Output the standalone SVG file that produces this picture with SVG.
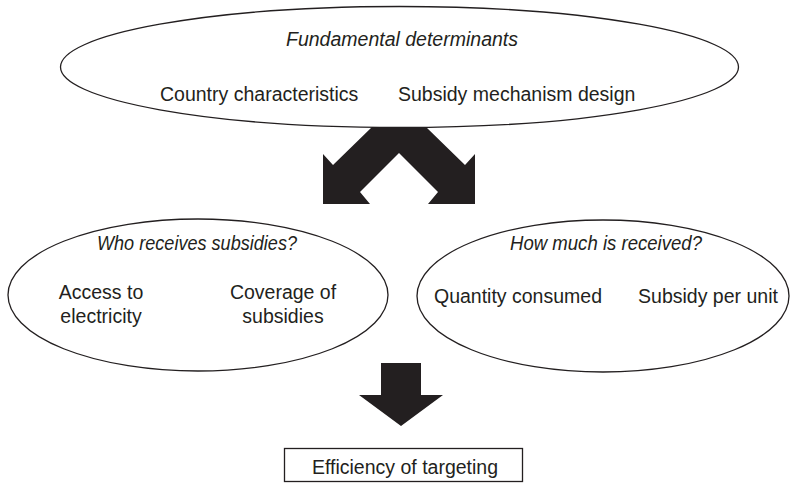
<svg xmlns="http://www.w3.org/2000/svg" width="790" height="483" viewBox="0 0 790 483">
<style>
.sh{fill:none;stroke:#231f20;stroke-width:1.3}
.t{font-family:"Liberation Sans",Arial,sans-serif;font-size:19.5px;fill:#231f20}
.i{font-style:italic}
.m{text-anchor:middle}
.ar{fill:#231f20;stroke:none}
</style>
<rect width="790" height="483" fill="#fff"/>
<g id="fundamental">
<ellipse class="sh" cx="399.5" cy="67" rx="339" ry="60.5"/>
<text class="t i m" x="402" y="46" textLength="232" lengthAdjust="spacingAndGlyphs">Fundamental determinants</text>
<text class="t" x="160" y="101">Country characteristics</text>
<text class="t" x="398" y="101">Subsidy mechanism design</text>
</g>
<g id="who">
<ellipse class="sh" cx="198" cy="295" rx="190" ry="76"/>
<text class="t i m" x="197" y="250" textLength="200" lengthAdjust="spacingAndGlyphs">Who receives subsidies?</text>
<text class="t m" x="101" y="299">Access to</text>
<text class="t m" x="101" y="323">electricity</text>
<text class="t m" x="283" y="299">Coverage of</text>
<text class="t m" x="283" y="323">subsidies</text>
</g>
<g id="howmuch">
<ellipse class="sh" cx="603" cy="296" rx="186" ry="76"/>
<text class="t i m" x="606" y="250" textLength="192" lengthAdjust="spacingAndGlyphs">How much is received?</text>
<text class="t m" x="518" y="303">Quantity consumed</text>
<text class="t m" x="708" y="303">Subsidy per unit</text>
</g>
<g id="efficiency">
<rect class="sh" x="284.5" y="448.5" width="238" height="33"/>
<text class="t m" x="405" y="474">Efficiency of targeting</text>
</g>
<g id="connectors">
<polygon class="ar" points="372,127 426,127 465,165 475,154 475,204 428,204 438,192 399,153 360,192 370,204 323,204 323,154 333,165"/>
<polygon class="ar" points="381,363 421,363 421,395 443,395 401,426 359,395 381,395"/>
</g>
</svg>
